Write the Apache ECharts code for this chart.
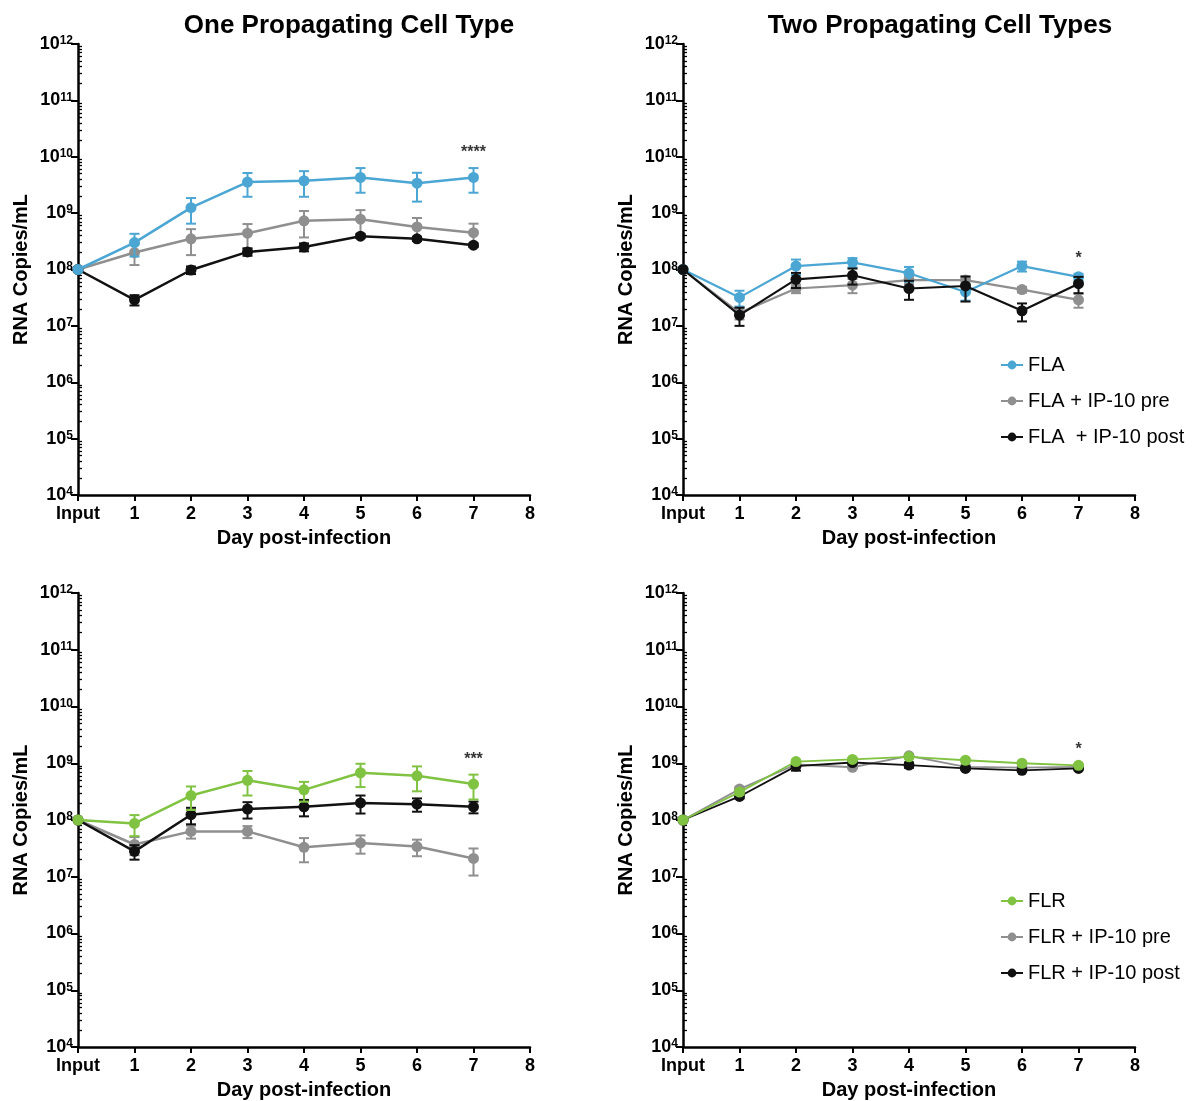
<!DOCTYPE html>
<html>
<head>
<meta charset="utf-8">
<script src="https://cdn.jsdelivr.net/npm/echarts@6/dist/echarts.min.js"></script>
<style>
  html, body { margin: 0; padding: 0; background: #ffffff; }
  #chart { width: 1204px; height: 1101px; }
</style>
</head>
<body>
<div id="chart"></div>
<script>
// ---- Days sampled and axis labels ----
const days = [0, 1, 2, 3, 4, 5, 6, 7];
const xTickLabels = ['Input', '1', '2', '3', '4', '5', '6', '7', '8'];
const panelTitles = ['One Propagating Cell Type', 'Two Propagating Cell Types'];

// ---- FLA, one propagating cell type (mean, SEM) ----
const flaOneMean     = [1e8, 3.0e8, 1.25e9, 3.55e9, 3.75e9, 4.3e9, 3.4e9, 4.3e9];
const flaOneSem      = [0, 1.3e8, 0.6e9, 1.6e9, 1.8e9, 2.0e9, 1.8e9, 2.0e9];
const flaPreOneMean  = [1e8, 2.0e8, 3.5e8, 4.4e8, 7.3e8, 7.8e8, 5.7e8, 4.5e8];
const flaPreOneSem   = [0, 0.8e8, 1.7e8, 2.0e8, 3.6e8, 3.5e8, 2.5e8, 2.0e8];
const flaPostOneMean = [1e8, 2.9e7, 9.8e7, 2.05e8, 2.5e8, 3.9e8, 3.5e8, 2.7e8];
const flaPostOneSem  = [0, 6e6, 1.5e7, 3e7, 4e7, 3e7, 3e7, 2e7];

// ---- FLA, two propagating cell types ----
const flaTwoMean     = [1e8, 3.2e7, 1.15e8, 1.34e8, 8.6e7, 4.0e7, 1.15e8, 7.4e7];
const flaTwoSem      = [0, 1e7, 3.5e7, 2.5e7, 2.5e7, 1.2e7, 2.3e7, 1e7];
const flaPreTwoMean  = [1e8, 1.7e7, 4.6e7, 5.3e7, 6.5e7, 6.5e7, 4.4e7, 2.9e7];
const flaPreTwoSem   = [0, 4e6, 8e6, 1.5e7, 1e7, 1e7, 5e6, 8e6];
const flaPostTwoMean = [1e8, 1.55e7, 6.7e7, 7.9e7, 4.6e7, 5.1e7, 1.85e7, 5.6e7];
const flaPostTwoSem  = [0, 5.5e6, 2e7, 2.5e7, 1.7e7, 2.4e7, 6.5e6, 1.8e7];

// ---- FLR, one propagating cell type ----
const flrOneMean     = [1e8, 8.7e7, 2.7e8, 5.0e8, 3.4e8, 6.8e8, 6.0e8, 4.3e8];
const flrOneSem      = [0, 3.5e7, 1.2e8, 2.3e8, 1.3e8, 3.0e8, 2.8e8, 2.0e8];
const flrPreOneMean  = [1e8, 3.7e7, 6.3e7, 6.3e7, 3.3e7, 3.95e7, 3.4e7, 2.1e7];
const flrPreOneSem   = [0, 1.3e7, 1.6e7, 1.5e7, 1.5e7, 1.4e7, 1.1e7, 1.05e7];
const flrPostOneMean = [1e8, 2.8e7, 1.24e8, 1.56e8, 1.71e8, 2.0e8, 1.9e8, 1.71e8];
const flrPostOneSem  = [0, 8e6, 4e7, 5e7, 5.5e7, 7e7, 5e7, 4e7];

// ---- FLR, two propagating cell types ----
const flrTwoMean     = [1e8, 3.1e8, 1.07e9, 1.17e9, 1.3e9, 1.13e9, 1.0e9, 9.2e8];
const flrTwoSem      = [0, 3e7, 8e7, 6e7, 8e7, 6e7, 5e7, 4e7];
const flrPreTwoMean  = [1e8, 3.5e8, 9.5e8, 8.5e8, 1.35e9, 8.6e8, 8.4e8, 8.6e8];
const flrPreTwoSem   = [0, 3e7, 6e7, 5e7, 8e7, 5e7, 4e7, 4e7];
const flrPostTwoMean = [1e8, 2.6e8, 8.9e8, 1.03e9, 9.3e8, 8.1e8, 7.5e8, 8.1e8];
const flrPostTwoSem  = [0, 2e7, 1.5e8, 5e7, 1e8, 4e7, 4e7, 3e7];

// ---- Significance marks at day 7 ----
const sigLabels = ['****', '*', '***', '*'];

// ---- Series names ----
const flaNames = ['FLA', 'FLA + IP-10 pre', 'FLA  + IP-10 post'];
const flrNames = ['FLR', 'FLR + IP-10 pre', 'FLR + IP-10 post'];

const FONT = '"Liberation Sans", Arial, Helvetica, sans-serif';
const BLUE = '#4ba6d3';
const GREEN = '#80c241';
const GRAY = '#8f8f8f';
const BLACK = '#111111';

// panel layout: top-left, top-right, bottom-left, bottom-right
const grids = [
  { left: 78,  top: 44,  width: 452, height: 451 },
  { left: 683, top: 44,  width: 452, height: 451 },
  { left: 78,  top: 593, width: 452, height: 456 },
  { left: 683, top: 593, width: 452, height: 456 }
];

// each panel: groups listed in drawing order (first is underneath)
const panels = [
  { groups: [
      { name: flaNames[1], color: GRAY,  mean: flaPreOneMean,  sem: flaPreOneSem },
      { name: flaNames[2], color: BLACK, mean: flaPostOneMean, sem: flaPostOneSem },
      { name: flaNames[0], color: BLUE,  mean: flaOneMean,     sem: flaOneSem }
    ], lineWidth: 2.5 },
  { groups: [
      { name: flaNames[1], color: GRAY,  mean: flaPreTwoMean,  sem: flaPreTwoSem },
      { name: flaNames[0], color: BLUE,  mean: flaTwoMean,     sem: flaTwoSem },
      { name: flaNames[2], color: BLACK, mean: flaPostTwoMean, sem: flaPostTwoSem }
    ], lineWidth: 2.2 },
  { groups: [
      { name: flrNames[1], color: GRAY,  mean: flrPreOneMean,  sem: flrPreOneSem },
      { name: flrNames[2], color: BLACK, mean: flrPostOneMean, sem: flrPostOneSem },
      { name: flrNames[0], color: GREEN, mean: flrOneMean,     sem: flrOneSem }
    ], lineWidth: 2.5 },
  { groups: [
      { name: flrNames[1], color: GRAY,  mean: flrPreTwoMean,  sem: flrPreTwoSem },
      { name: flrNames[2], color: BLACK, mean: flrPostTwoMean, sem: flrPostTwoSem },
      { name: flrNames[0], color: GREEN, mean: flrTwoMean,     sem: flrTwoSem }
    ], lineWidth: 1.8 }
];

// minor tick positions at 2..9 of each decade
const minorTickValues = [];
for (let e = 4; e < 12; e++) {
  for (let m = 2; m <= 9; m++) minorTickValues.push(m * Math.pow(10, e));
}

const xAxes = [];
const yAxes = [];
grids.forEach((g, i) => {
  xAxes.push({
    type: 'value', gridIndex: i, min: 0, max: 8, interval: 1,
    name: 'Day post-infection', nameLocation: 'middle', nameGap: 33,
    nameTextStyle: { fontFamily: FONT, fontWeight: 'bold', fontSize: 20, color: '#000' },
    axisLine: { onZero: false, lineStyle: { color: '#000', width: 2.5 } },
    axisTick: { length: 6, lineStyle: { color: '#000', width: 2 } },
    axisLabel: {
      formatter: v => xTickLabels[v], margin: 10, color: '#000',
      fontFamily: FONT, fontWeight: 'bold', fontSize: 18
    },
    splitLine: { show: false }
  });
  // major decades with labels
  yAxes.push({
    type: 'log', logBase: 10, gridIndex: i, min: 1e4, max: 1e12, interval: 1,
    name: 'RNA Copies/mL', nameLocation: 'middle', nameGap: 47,
    nameTextStyle: { fontFamily: FONT, fontWeight: 'bold', fontSize: 20, color: '#000' },
    axisLine: { onZero: false, lineStyle: { color: '#000', width: 2.5 } },
    axisTick: { length: 7, lineStyle: { color: '#000', width: 2 } },
    axisLabel: {
      margin: 5, color: '#000',
      formatter: v => '{b|10}{s|' + Math.round(Math.log10(v)) + '}',
      rich: {
        b: { fontFamily: FONT, fontWeight: 'bold', fontSize: 18, color: '#000', verticalAlign: 'top', lineHeight: 18 },
        s: { fontFamily: FONT, fontWeight: 'bold', fontSize: 12, color: '#000', verticalAlign: 'top', lineHeight: 18 }
      }
    },
    splitLine: { show: false }
  });
  // minor ticks inside each decade
  yAxes.push({
    type: 'log', logBase: 10, gridIndex: i, min: 1e4, max: 1e12,
    axisLine: { show: false },
    axisLabel: { show: false },
    axisTick: { show: true, length: 4, customValues: minorTickValues, lineStyle: { color: '#000', width: 1.3 } },
    splitLine: { show: false }
  });
});

function errorBarRender(color) {
  return function (params, api) {
    const x = api.value(0);
    const lo = api.coord([x, api.value(1)]);
    const hi = api.coord([x, api.value(2)]);
    const hw = 5;
    const style = { stroke: color, lineWidth: 2 };
    return {
      type: 'group',
      children: [
        { type: 'line', shape: { x1: hi[0], y1: hi[1], x2: lo[0], y2: lo[1] }, style },
        { type: 'line', shape: { x1: hi[0] - hw, y1: hi[1], x2: hi[0] + hw, y2: hi[1] }, style },
        { type: 'line', shape: { x1: lo[0] - hw, y1: lo[1], x2: lo[0] + hw, y2: lo[1] }, style }
      ]
    };
  };
}

const series = [];
panels.forEach((p, pi) => {
  p.groups.forEach((g, gi) => {
    // mean line with markers (listed first so the legend takes its look)
    series.push({
      type: 'line', name: g.name, xAxisIndex: pi, yAxisIndex: pi * 2,
      data: days.map((d, k) => [d, g.mean[k]]),
      symbol: 'circle', symbolSize: 11, showSymbol: true,
      color: g.color,
      itemStyle: { color: g.color },
      lineStyle: { color: g.color, width: p.lineWidth },
      z: 3 + gi * 2, animation: false
    });
    // SEM error bars
    const errData = [];
    days.forEach((d, k) => {
      if (g.sem[k] > 0) errData.push([d, g.mean[k] - g.sem[k], g.mean[k] + g.sem[k]]);
    });
    series.push({
      type: 'custom', name: g.name, xAxisIndex: pi, yAxisIndex: pi * 2,
      renderItem: errorBarRender(g.color),
      encode: { x: 0, y: [1, 2] },
      itemStyle: { color: g.color },
      data: errData, z: 2 + gi * 2, silent: true
    });
  });
  // significance mark above the highest day-7 error bar
  const top7 = Math.max(...p.groups.map(g => g.mean[7] + g.sem[7]));
  series.push({
    type: 'scatter', xAxisIndex: pi, yAxisIndex: pi * 2,
    data: [[7, top7]], symbolSize: 0, silent: true, z: 10,
    label: {
      show: true, position: 'top', distance: 7,
      formatter: sigLabels[pi], color: '#000',
      fontFamily: FONT, fontWeight: 'bold', fontSize: 16
    }
  });
});

const legendText = { fontFamily: FONT, fontSize: 20, color: '#000' };

const chart = echarts.init(document.getElementById('chart'), null, { renderer: 'canvas' });
chart.setOption({
  animation: false,
  backgroundColor: '#ffffff',
  title: [
    { text: panelTitles[0], left: 344, top: 8, textAlign: 'center',
      textStyle: { fontFamily: FONT, fontWeight: 'bold', fontSize: 26, color: '#000' } },
    { text: panelTitles[1], left: 935, top: 8, textAlign: 'center',
      textStyle: { fontFamily: FONT, fontWeight: 'bold', fontSize: 26, color: '#000' } }
  ],
  legend: [
    { data: flaNames, orient: 'vertical', left: 995, top: 350, itemGap: 16,
      itemWidth: 22, itemHeight: 11, itemStyle: { borderWidth: 0 }, textStyle: legendText },
    { data: flrNames, orient: 'vertical', left: 995, top: 886, itemGap: 16,
      itemWidth: 22, itemHeight: 11, itemStyle: { borderWidth: 0 }, textStyle: legendText }
  ],
  grid: grids,
  xAxis: xAxes,
  yAxis: yAxes,
  series: series
});
</script>
</body>
</html>
